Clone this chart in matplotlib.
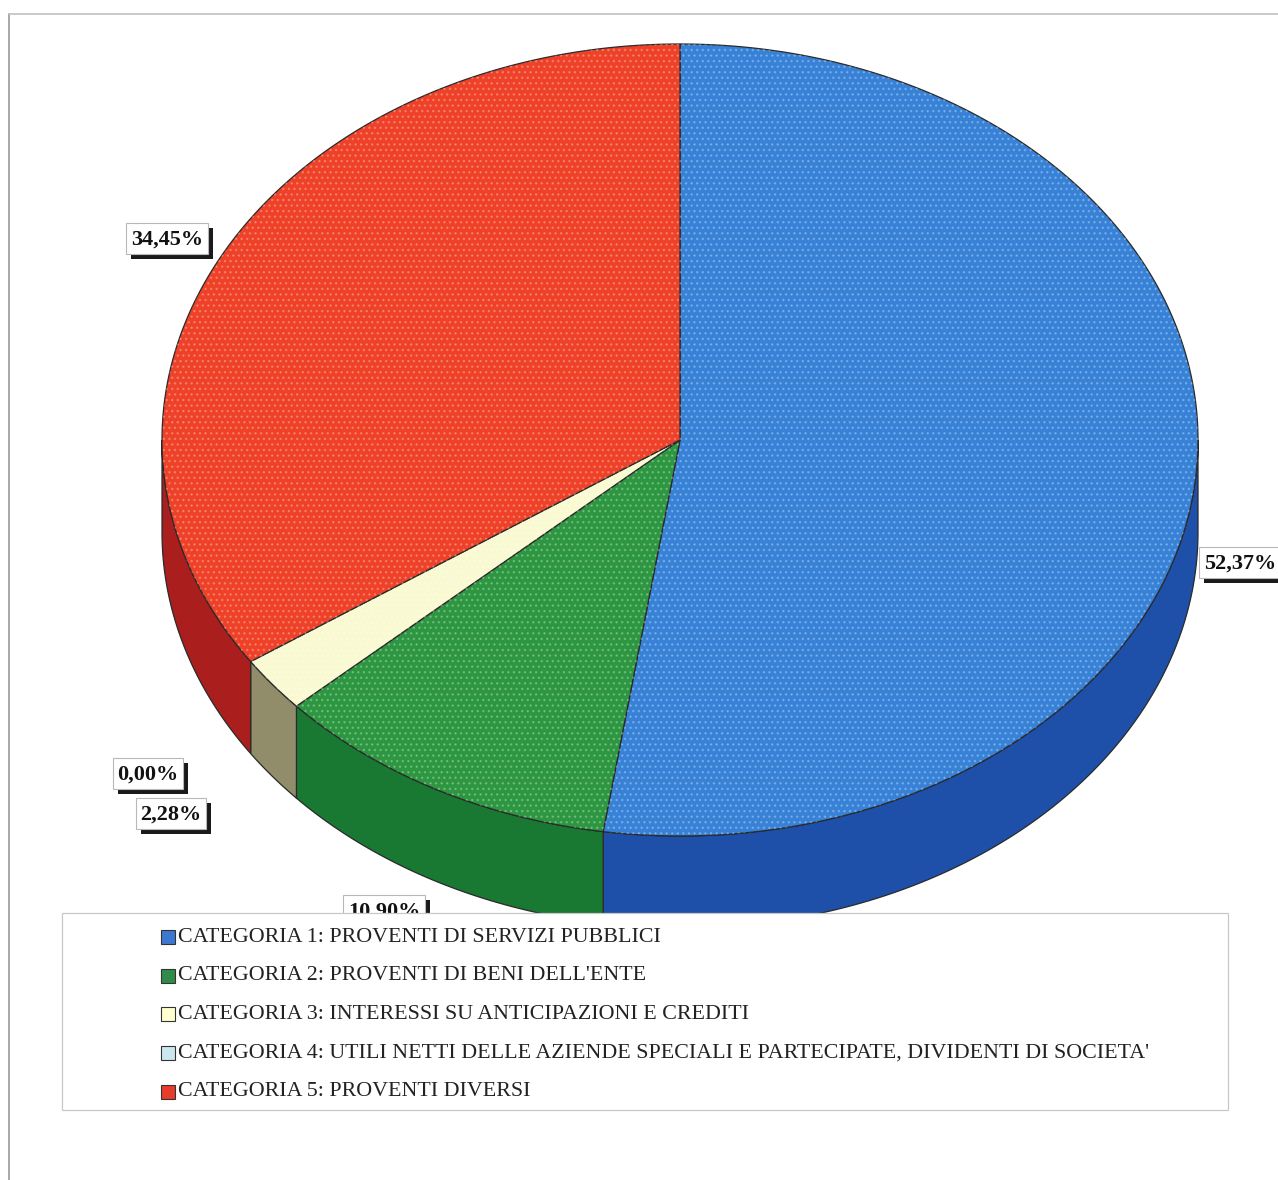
import numpy as np
import matplotlib
matplotlib.use("Agg")
import matplotlib.pyplot as plt
from matplotlib.patches import Polygon, Rectangle

# dati del grafico (percentuali per categoria)
categorie = [
    "CATEGORIA 1: PROVENTI DI SERVIZI PUBBLICI",
    "CATEGORIA 2: PROVENTI DI BENI DELL'ENTE",
    "CATEGORIA 3: INTERESSI SU ANTICIPAZIONI E CREDITI",
    "CATEGORIA 4: UTILI NETTI DELLE AZIENDE SPECIALI E PARTECIPATE, DIVIDENTI DI SOCIETA'",
    "CATEGORIA 5: PROVENTI DIVERSI",
]
valori = [52.37, 10.90, 2.28, 0.00, 34.45]
etichette = ["52,37%", "10,90%", "2,28%", "0,00%", "34,45%"]

col_sopra = ["#3782d7", "#2d9641", "#fafad2", "#cde8f2", "#ee4128"]
col_lato = ["#1e50aa", "#197832", "#918c69", "#8fb0bb", "#aa1e1e"]
col_legenda = ["#3c78d0", "#2e8b4a", "#ffffd0", "#cce6f0", "#e63c2c"]

# posizioni delle etichette (angolo alto-sinistra del riquadro)
pos_etichette = [(1199, 547), (343, 895), (136, 798), (113, 758), (126, 223)]

W, H = 1278, 1180
fig = plt.figure(figsize=(W / 100, H / 100), dpi=100)
ax = fig.add_axes([0, 0, 1, 1])
ax.set_xlim(0, W)
ax.set_ylim(H, 0)
ax.axis("off")

cx, cy = 680, 440
a, b = 518, 396
prof = 92
bordo = "#2a2a2a"


def punto(t, dy=0.0):
    return cx + a * np.cos(t), cy - b * np.sin(t) + dy


# angoli: si parte dalle 12 e si gira in senso orario
tot = sum(valori)
limiti = [np.pi / 2]
for v in valori:
    limiti.append(limiti[-1] - 2 * np.pi * v / tot)

# fianchi visibili (metà davanti, t tra -pi e 0)
for i in range(len(valori)):
    t2, t1 = limiti[i], limiti[i + 1]
    lo, hi = max(t1, -np.pi), min(t2, 0.0)
    if hi - lo <= 1e-6:
        continue
    tt = np.linspace(lo, hi, 200)
    xs, ys = punto(tt)
    xb, yb = punto(tt[::-1], prof)
    pts = np.column_stack([np.r_[xs, xb], np.r_[ys, yb]])
    ax.add_patch(Polygon(pts, closed=True, facecolor=col_lato[i],
                         edgecolor=bordo, lw=0.9, zorder=2))

# facce superiori
for i in range(len(valori)):
    t2, t1 = limiti[i], limiti[i + 1]
    if t2 - t1 <= 1e-6:
        continue
    tt = np.linspace(t2, t1, 400)
    xs, ys = punto(tt)
    pts = np.column_stack([np.r_[cx, xs], np.r_[cy, ys]])
    ax.add_patch(Polygon(pts, closed=True, facecolor=col_sopra[i],
                         edgecolor=bordo, lw=0.9, zorder=3))
    # puntinatura leggera
    ax.add_patch(Polygon(pts, closed=True, facecolor="none",
                         edgecolor="#ffffff", lw=0, hatch="...",
                         alpha=0.25, zorder=4))

# etichette percentuali con ombra
for i, (x0, y0) in enumerate(pos_etichette):
    bw = 10 + 12 * len(etichette[i])
    bh = 31
    ax.add_patch(Rectangle((x0 + 5, y0 + 5), bw, bh, facecolor="#1a1a1a",
                           edgecolor="none", zorder=5))
    ax.add_patch(Rectangle((x0, y0), bw, bh, facecolor="white",
                           edgecolor="#b8b8b8", lw=0.8, zorder=6))
    ax.text(x0 + bw / 2, y0 + bh / 2 + 1, etichette[i], fontsize=16,
            fontweight="bold", family="Liberation Serif", color="#111111",
            ha="center", va="center", zorder=7)

# legenda
ax.add_patch(Rectangle((62, 913), 1166, 197, facecolor="white",
                       edgecolor="#c8c8c8", lw=0.9, zorder=10))
for i, nome in enumerate(categorie):
    y = 937 + 38.7 * i
    ax.add_patch(Rectangle((161, y - 7), 14, 14, facecolor=col_legenda[i],
                           edgecolor="#333333", lw=0.8, zorder=11))
    ax.text(178, y, nome, fontsize=15.8, family="Liberation Serif",
            color="#222222", ha="left", va="center", zorder=11)

# cornice esterna
ax.plot([9, 9], [H, 14], color="#9a9a9a", lw=1.2, zorder=1)
ax.plot([9, W], [14, 14], color="#c0c0c0", lw=1.2, zorder=1)

fig.savefig("out.png", dpi=100, facecolor="white")
